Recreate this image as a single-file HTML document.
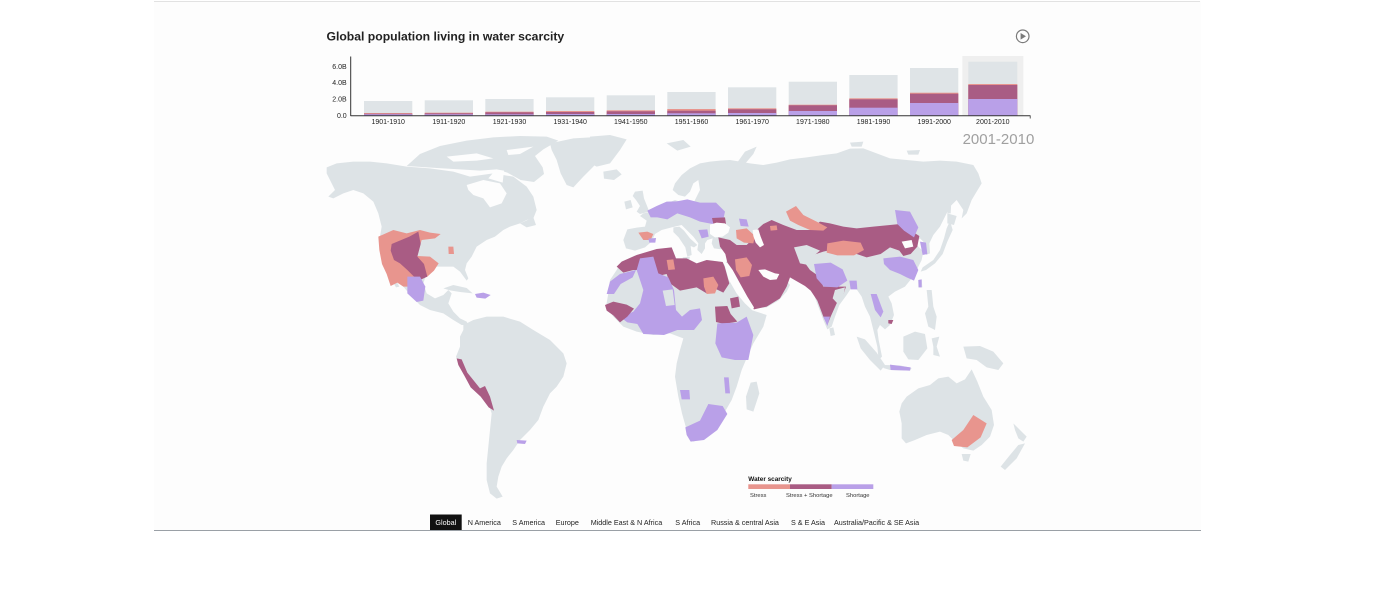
<!DOCTYPE html>
<html><head><meta charset="utf-8"><style>
html,body{margin:0;padding:0;background:#fff;width:1380px;height:600px;overflow:hidden}
svg{position:absolute;left:0;top:0}
text{font-family:"Liberation Sans",Arial,sans-serif}
</style></head><body>
<svg width="1380" height="600" viewBox="0 0 1380 600" xmlns="http://www.w3.org/2000/svg">
<rect x="154" y="1" width="1047" height="529" fill="#fdfdfd"/>
<line x1="154" y1="1.5" x2="1200" y2="1.5" stroke="#e2e2e2" stroke-width="1"/>
<line x1="154" y1="530.5" x2="1201" y2="530.5" stroke="#9aa0a6" stroke-width="1"/>

<text x="326.5" y="40.5" font-size="12.2" font-weight="bold" fill="#222">Global population living in water scarcity</text>
<circle cx="1022.7" cy="36.3" r="6.3" fill="none" stroke="#7a7a7a" stroke-width="1.2"/>
<path d="M1020.6,33 L1020.6,39.6 L1026,36.3 Z" fill="#7a7a7a"/>

<!-- bar chart -->
<rect x="962.3" y="56" width="61" height="59.7" fill="#efefef"/>
<line x1="350.7" y1="56.5" x2="350.7" y2="116" stroke="#333" stroke-width="1"/>
<g font-size="7" fill="#222" text-anchor="end">
<text x="346.7" y="69">6.0B</text>
<text x="346.7" y="85">4.0B</text>
<text x="346.7" y="101.5">2.0B</text>
<text x="346.7" y="118">0.0</text>
</g>
<text x="1034.3" y="144" font-size="15" fill="#a0a0a0" text-anchor="end">2001-2010</text>

<!-- Americas -->
<g transform="translate(320,130) scale(0.33333)">
<g fill="#dde3e6">
<path d="M20,112 L50,100 L100,95 L150,95 L200,100 L260,110 L330,115 L400,125 L450,140 L520,130 L580,140 L620,170 L640,200 L650,240 L640,265 L620,270 L600,280 L570,290 L550,300 L525,320 L500,330 L470,350 L455,380 L440,400 L435,420 L445,445 L440,452 L420,425 L400,410 L370,410 L345,410 L320,430 L310,460 L320,490 L345,505 L370,495 L385,480 L395,490 L385,520 L400,545 L420,565 L440,575 L445,585 L425,585 L400,570 L370,550 L330,540 L300,525 L275,500 L250,470 L230,445 L215,415 L200,400 L190,390 L185,360 L180,320 L185,290 L175,250 L160,215 L130,190 L100,180 L70,190 L40,205 L25,200 L45,180 L30,150 L20,130 Z"/>
<path d="M195,395 L212,420 L238,470 L228,472 L205,432 Z"/>
<path d="M260,108 L300,72 L360,48 L440,32 L520,22 L600,18 L680,20 L715,32 L670,58 L645,78 L668,112 L672,132 L642,156 L602,150 L562,128 L530,118 L480,122 L420,118 L350,114 Z"/>
<path d="M690,40 L760,25 L850,20 L910,28 L880,50 L845,80 L820,110 L790,140 L760,172 L740,165 L722,130 L710,90 L695,60 Z"/>
<path d="M370,475 L400,465 L440,474 L458,490 L420,486 L390,481 Z"/>
<path d="M600,280 L640,262 L648,285 L620,292 Z"/>
<path d="M430,585 L460,570 L500,560 L550,560 L600,575 L640,600 L690,630 L730,670 L740,700 L730,740 L710,770 L690,790 L670,830 L655,870 L630,900 L600,930 L580,960 L560,985 L545,1010 L535,1040 L530,1070 L548,1100 L530,1106 L510,1090 L500,1050 L500,1000 L505,950 L510,900 L515,850 L505,820 L480,790 L450,762 L430,732 L415,702 L408,680 L420,650 L420,620 L430,600 Z"/>
</g>
<g fill="#fdfdfd">
<path d="M440,165 L490,150 L540,160 L560,190 L545,220 L510,232 L490,205 L460,195 L445,180 Z"/>
<path d="M505,145 L528,118 L552,122 L548,158 Z"/>
<path d="M380,80 L470,70 L520,85 L470,92 L400,95 Z"/>
<path d="M560,60 L640,50 L600,72 L565,75 Z"/>
</g>
<path fill="#e8958e" d="M175,320 L220,300 L260,310 L300,300 L330,308 L362,312 L345,325 L305,330 L292,378 L330,380 L356,400 L342,422 L322,440 L292,450 L272,470 L250,470 L232,458 L212,468 L200,432 L186,402 L178,360 Z"/>
<path fill="#a95c84" d="M215,342 L268,320 L295,305 L302,342 L292,380 L312,402 L322,440 L300,450 L282,440 L262,420 L240,400 L222,390 L212,362 Z"/>
<path fill="#b9a0e8" d="M262,440 L300,440 L316,470 L310,512 L290,516 L262,490 Z"/>
<path fill="#e8958e" d="M385,350 L400,350 L402,372 L386,372 Z"/>
<path fill="#b9a0e8" d="M465,492 L490,488 L512,495 L496,506 L470,503 Z"/>
<path fill="#a95c84" d="M410,685 L425,688 L442,728 L480,775 L495,768 L510,800 L522,842 L506,832 L482,800 L452,772 L432,735 L415,705 Z"/>
<path fill="#b9a0e8" d="M590,930 L620,932 L615,942 L592,940 Z"/>
</g>

<!-- Eurasia / Africa / Oceania -->
<g transform="translate(590,130) scale(0.33333)">
<g fill="#dde3e6">
<path d="M112,298 L100,330 L108,355 L135,362 L165,352 L185,335 L195,312 L215,300 L245,292 L275,285 L290,300 L310,320 L325,340 L322,360 L335,372 L345,355 L345,340 L352,330 L368,325 L365,340 L372,355 L395,358 L418,352 L420,365 L414,385 L408,398 L425,420 L448,460 L470,500 L492,535 L530,532 L565,512 L590,485 L600,465 L585,445 L570,430 L595,438 L625,443 L650,455 L660,478 L672,495 L685,530 L700,570 L712,598 L725,590 L735,560 L748,525 L770,495 L785,472 L800,478 L815,500 L825,530 L840,560 L850,600 L862,650 L866,690 L876,680 L866,630 L862,600 L870,585 L885,598 L900,585 L912,555 L905,520 L895,500 L915,485 L945,470 L965,445 L980,420 L995,390 L1000,365 L985,350 L975,340 L990,325 L1000,335 L1008,375 L1020,370 L1018,340 L1030,315 L1050,290 L1065,260 L1080,230 L1100,210 L1120,240 L1115,265 L1130,250 L1145,210 L1160,185 L1175,160 L1165,130 L1150,105 L1100,95 L1050,92 L1000,95 L950,90 L900,85 L860,70 L820,55 L780,56 L740,70 L700,75 L650,82 L600,88 L560,98 L520,105 L480,100 L450,95 L420,90 L390,92 L360,95 L330,100 L300,115 L275,135 L255,160 L248,180 L265,195 L285,200 L300,185 L310,160 L325,150 L330,180 L320,200 L310,220 L290,225 L270,215 L255,210 L230,220 L215,228 L200,238 L185,245 L160,250 L150,258 L170,272 L165,290 L140,293 Z"/>
<path d="M250,292 L268,290 L282,302 L300,325 L322,345 L312,352 L302,348 L305,375 L292,380 L286,352 L266,322 L250,306 Z"/>
<path d="M278,382 L300,380 L296,394 L280,392 Z"/>
<path d="M135,185 L158,182 L162,205 L170,225 L178,245 L150,252 L140,245 L150,228 L138,210 L128,198 Z"/>
<path d="M103,215 L122,210 L128,232 L108,238 Z"/>
<path d="M40,125 L80,118 L95,133 L72,150 L42,146 Z"/>
<path d="M0,20 L60,15 L110,28 L90,60 L60,100 L20,110 L0,100 Z"/>
<path d="M230,40 L280,30 L302,50 L262,62 Z"/>
<path d="M440,100 L465,65 L500,50 L490,72 L462,105 Z"/>
<path d="M780,38 L820,35 L815,50 L785,50 Z"/>
<path d="M950,62 L990,60 L985,74 L955,74 Z"/>
<path d="M1075,195 L1085,195 L1082,250 L1072,250 Z"/>
<path d="M1080,272 L1088,300 L1072,335 L1058,372 L1035,400 L1008,420 L992,425 L998,412 L1030,390 L1050,360 L1062,325 L1070,295 Z"/>
<path d="M1072,250 L1100,258 L1092,285 L1072,280 Z"/>
<path d="M985,450 L995,448 L997,472 L985,472 Z"/>
<path d="M1010,480 L1025,480 L1030,530 L1040,560 L1035,600 L1015,590 L1005,550 L1015,530 Z"/>
<path d="M718,595 L730,592 L735,615 L722,618 Z"/>
<path d="M800,620 L825,628 L860,668 L885,705 L872,722 L840,690 L812,655 Z"/>
<path d="M880,705 L930,706 L965,714 L960,722 L900,720 L880,714 Z"/>
<path d="M940,620 L975,605 L1005,612 L1012,655 L985,690 L955,688 L940,665 Z"/>
<path d="M1025,625 L1048,620 L1040,650 L1050,680 L1030,675 L1030,650 Z"/>
<path d="M1120,650 L1170,648 L1210,665 L1240,700 L1225,720 L1190,712 L1160,690 L1130,685 Z"/>
<path d="M935,820 L950,800 L985,775 L1020,765 L1045,745 L1075,740 L1100,760 L1125,748 L1145,718 L1162,755 L1180,800 L1205,840 L1212,885 L1200,920 L1175,945 L1150,962 L1120,955 L1095,935 L1075,915 L1050,905 L1010,915 L975,930 L948,940 L935,925 L935,880 L928,845 Z"/>
<path d="M1115,972 L1142,972 L1135,995 L1120,992 Z"/>
<path d="M1270,880 L1290,900 L1310,920 L1300,935 L1285,925 L1275,900 Z"/>
<path d="M1285,945 L1305,940 L1280,985 L1245,1020 L1232,1010 L1260,975 Z"/>
<path d="M482,758 L500,755 L508,790 L490,845 L470,838 L468,800 Z"/>
<path d="M95,395 L140,375 L200,358 L245,352 L258,385 L290,385 L320,400 L350,390 L398,396 L404,406 L416,448 L440,490 L465,520 L490,542 L530,555 L520,590 L490,640 L472,680 L455,720 L440,770 L425,810 L402,850 L390,880 L350,920 L310,935 L290,900 L276,850 L265,800 L255,740 L260,700 L270,660 L280,625 L240,610 L190,615 L140,605 L100,590 L70,560 L48,530 L55,490 L60,450 L80,420 Z"/>
</g>
<!-- colours -->
<path fill="#a95c84" d="M80,410 L95,395 L140,375 L200,357 L245,352 L258,385 L290,385 L320,400 L350,390 L398,396 L404,410 L418,460 L400,488 L380,478 L350,490 L320,472 L270,482 L240,460 L230,432 L195,440 L182,420 L130,420 L100,428 Z"/>
<path fill="#e8958e" d="M230,390 L250,388 L255,418 L235,420 Z"/>
<path fill="#e8958e" d="M340,445 L370,440 L385,465 L375,490 L350,492 L342,470 Z"/>
<path fill="#b9a0e8" d="M50,492 L60,455 L90,432 L138,420 L128,442 L92,462 L72,492 Z"/>
<path fill="#b9a0e8" d="M140,420 L150,385 L190,380 L205,430 L235,442 L252,480 L258,540 L276,560 L300,540 L330,535 L336,570 L312,600 L262,600 L222,615 L160,612 L142,582 L112,577 L92,562 L130,545 L150,520 L160,480 L150,450 Z"/>
<path fill="#dde3e6" d="M218,482 L248,478 L254,525 L228,528 Z"/>
<path fill="#a95c84" d="M45,525 L70,515 L110,524 L132,536 L112,560 L90,577 L70,556 L50,542 Z"/>
<path fill="#a95c84" d="M375,530 L412,528 L422,552 L442,575 L402,582 L378,576 Z"/>
<path fill="#a95c84" d="M420,505 L445,500 L450,530 L425,535 Z"/>
<path fill="#b9a0e8" d="M382,580 L440,578 L470,560 L490,615 L475,690 L435,690 L395,682 L376,640 Z"/>
<path fill="#b9a0e8" d="M286,892 L330,872 L355,822 L398,828 L412,852 L382,900 L342,930 L302,935 L290,915 Z"/>
<path fill="#b9a0e8" d="M270,780 L298,780 L300,808 L275,808 Z"/>
<path fill="#b9a0e8" d="M402,742 L416,742 L420,790 L406,790 Z"/>
<path fill="#b9a0e8" d="M172,242 L200,228 L230,215 L260,214 L292,208 L330,218 L378,218 L405,245 L400,268 L368,282 L330,275 L300,262 L262,250 L232,268 L202,262 L182,262 Z"/>
<path fill="#a95c84" d="M366,264 L405,262 L408,282 L390,292 L372,290 Z"/>
<path fill="#e8958e" d="M145,308 L172,305 L190,312 L182,330 L160,330 Z"/>
<path fill="#b9a0e8" d="M175,326 L198,324 L196,338 L178,338 Z"/>
<path fill="#b9a0e8" d="M325,300 L352,298 L356,320 L335,325 Z"/>
<path fill="#a95c84" d="M385,322 L420,330 L440,345 L470,345 L485,330 L500,300 L520,282 L545,270 L580,285 L620,300 L660,300 L690,275 L720,280 L760,290 L800,295 L850,290 L900,285 L930,282 L960,300 L988,318 L982,350 L962,372 L940,378 L928,362 L900,352 L872,372 L830,382 L800,372 L770,362 L740,356 L700,365 L660,378 L642,395 L660,420 L688,440 L700,470 L740,470 L768,470 L758,500 L740,520 L722,560 L712,585 L700,560 L682,512 L662,482 L645,468 L600,442 L590,470 L570,505 L530,530 L492,538 L472,518 L452,488 L432,458 L416,420 L412,398 L406,372 L390,350 Z"/>
<path fill="#e8958e" d="M438,300 L470,295 L495,318 L490,340 L462,338 L440,325 Z"/>
<path fill="#e8958e" d="M588,245 L618,228 L640,255 L680,275 L712,292 L700,302 L660,300 L625,285 L600,272 Z"/>
<path fill="#e8958e" d="M540,288 L560,286 L562,300 L542,302 Z"/>
<path fill="#b9a0e8" d="M447,266 L470,268 L476,290 L452,288 Z"/>
<path fill="#e8958e" d="M435,388 L470,382 L486,405 L478,438 L452,442 L438,420 Z"/>
<path fill="#dde3e6" d="M612,352 L650,345 L690,362 L668,380 L655,405 L630,400 Z"/>
<path fill="#e8958e" d="M712,340 L760,332 L812,338 L822,360 L792,376 L742,376 L710,368 Z"/>
<path fill="#b9a0e8" d="M672,402 L722,398 L758,418 L772,452 L742,472 L702,470 L680,445 Z"/>
<path fill="#b9a0e8" d="M778,452 L800,452 L802,478 L782,478 Z"/>
<path fill="#b9a0e8" d="M700,560 L720,560 L712,588 Z"/>
<path fill="#dde3e6" d="M735,480 L765,472 L760,500 L742,520 L728,505 Z"/>
<path fill="#b9a0e8" d="M880,385 L930,380 L970,390 L985,420 L972,452 L950,442 L930,432 L900,420 L882,402 Z"/>
<path fill="#b9a0e8" d="M915,240 L960,245 L985,292 L972,322 L942,302 L922,282 Z"/>
<path fill="#b9a0e8" d="M990,335 L1008,338 L1012,372 L998,375 Z"/>
<path fill="#b9a0e8" d="M985,450 L995,448 L995,472 L986,472 Z"/>
<path fill="#b9a0e8" d="M842,492 L860,492 L880,545 L872,562 L855,540 Z"/>
<path fill="#a95c84" d="M895,570 L910,570 L905,582 L895,580 Z"/>
<path fill="#b9a0e8" d="M900,704 L962,712 L960,722 L902,720 Z"/>
<path fill="#e8958e" d="M1150,855 L1190,880 L1172,922 L1132,952 L1092,948 L1085,930 L1120,900 Z"/>
<!-- seas -->
<g fill="#fdfdfd">
<path d="M360,284 L380,278 L405,280 L420,292 L415,308 L398,320 L375,322 L360,312 Z"/>
<path d="M488,300 L505,298 L512,320 L522,345 L510,352 L497,338 L490,318 Z"/>
<path d="M505,420 L525,418 L555,430 L568,432 L560,448 L540,450 L520,440 Z"/>
<path d="M404,402 L412,398 L428,420 L450,460 L472,500 L492,532 L488,542 L465,520 L440,490 L416,448 Z"/>
<path d="M935,335 L965,330 L970,350 L945,355 Z"/>
</g>
</g>

<!-- legend -->
<text x="748.3" y="480.8" font-size="6.4" font-weight="bold" fill="#111">Water scarcity</text>
<rect x="748.3" y="484.3" width="41.7" height="4.7" fill="#e8958e"/>
<rect x="790" y="484.3" width="41.7" height="4.7" fill="#a95c84"/>
<rect x="831.7" y="484.3" width="41.6" height="4.7" fill="#b9a0e8"/>
<g font-size="5.8" fill="#333">
<text x="750" y="497">Stress</text>
<text x="786" y="497">Stress + Shortage</text>
<text x="846" y="497">Shortage</text>
</g>

<!-- nav -->
<rect x="430" y="514.5" width="31.7" height="15.5" fill="#111"/>
<g font-size="7.2" fill="#222">
<text x="445.8" y="525" fill="#fff" text-anchor="middle">Global</text>
<text x="467.7" y="525">N America</text>
<text x="512.3" y="525">S America</text>
<text x="555.7" y="525">Europe</text>
<text x="590.7" y="525">Middle East &amp; N Africa</text>
<text x="675.3" y="525">S Africa</text>
<text x="711" y="525">Russia &amp; central Asia</text>
<text x="791" y="525">S &amp; E Asia</text>
<text x="834" y="525">Australia/Pacific &amp; SE Asia</text>
</g>

<!-- bars -->
<g>
<rect x="364" y="101" width="48.3" height="14.7" fill="#dfe4e7"/><rect x="364" y="113" width="48.3" height="2.7" fill="#e8958e"/><rect x="364" y="113.7" width="48.3" height="2" fill="#a95c84"/><rect x="364" y="114.3" width="48.3" height="1.4" fill="#b9a0e8"/>
<rect x="424.7" y="100.3" width="48.3" height="15.4" fill="#dfe4e7"/><rect x="424.7" y="112.7" width="48.3" height="3" fill="#e8958e"/><rect x="424.7" y="113.3" width="48.3" height="2.4" fill="#a95c84"/><rect x="424.7" y="114.3" width="48.3" height="1.4" fill="#b9a0e8"/>
<rect x="485.3" y="99" width="48.3" height="16.7" fill="#dfe4e7"/><rect x="485.3" y="111.7" width="48.3" height="4" fill="#e8958e"/><rect x="485.3" y="112.3" width="48.3" height="3.4" fill="#a95c84"/><rect x="485.3" y="114.3" width="48.3" height="1.4" fill="#b9a0e8"/>
<rect x="546" y="97.3" width="48.3" height="18.4" fill="#dfe4e7"/><rect x="546" y="111" width="48.3" height="4.7" fill="#e8958e"/><rect x="546" y="112" width="48.3" height="3.7" fill="#a95c84"/><rect x="546" y="114" width="48.3" height="1.7" fill="#b9a0e8"/>
<rect x="606.7" y="95.3" width="48.3" height="20.4" fill="#dfe4e7"/><rect x="606.7" y="110.3" width="48.3" height="5.4" fill="#e8958e"/><rect x="606.7" y="111.3" width="48.3" height="4.4" fill="#a95c84"/><rect x="606.7" y="114" width="48.3" height="1.7" fill="#b9a0e8"/>
<rect x="667.3" y="92" width="48.3" height="23.7" fill="#dfe4e7"/><rect x="667.3" y="109" width="48.3" height="6.7" fill="#e8958e"/><rect x="667.3" y="110.7" width="48.3" height="5" fill="#a95c84"/><rect x="667.3" y="113.3" width="48.3" height="2.4" fill="#b9a0e8"/>
<rect x="728" y="87.3" width="48.3" height="28.4" fill="#dfe4e7"/><rect x="728" y="108.3" width="48.3" height="7.4" fill="#e8958e"/><rect x="728" y="109.3" width="48.3" height="6.4" fill="#a95c84"/><rect x="728" y="113" width="48.3" height="2.7" fill="#b9a0e8"/>
<rect x="788.7" y="81.7" width="48.3" height="34" fill="#dfe4e7"/><rect x="788.7" y="104.7" width="48.3" height="11" fill="#e8958e"/><rect x="788.7" y="105.3" width="48.3" height="10.4" fill="#a95c84"/><rect x="788.7" y="111" width="48.3" height="4.7" fill="#b9a0e8"/>
<rect x="849.3" y="75" width="48.3" height="40.7" fill="#dfe4e7"/><rect x="849.3" y="98.3" width="48.3" height="17.4" fill="#e8958e"/><rect x="849.3" y="99.3" width="48.3" height="16.4" fill="#a95c84"/><rect x="849.3" y="107.7" width="48.3" height="8" fill="#b9a0e8"/>
<rect x="910" y="68" width="48.3" height="47.7" fill="#dfe4e7"/><rect x="910" y="92.7" width="48.3" height="23" fill="#e8958e"/><rect x="910" y="93.7" width="48.3" height="22" fill="#a95c84"/><rect x="910" y="103" width="48.3" height="12.7" fill="#b9a0e8"/>
<rect x="968.3" y="61.7" width="49" height="54" fill="#dfe4e7"/><rect x="968.3" y="84" width="49" height="31.7" fill="#e8958e"/><rect x="968.3" y="85" width="49" height="30.7" fill="#a95c84"/><rect x="968.3" y="99" width="49" height="16.7" fill="#b9a0e8"/>
</g>
<line x1="350.5" y1="115.7" x2="1030.5" y2="115.7" stroke="#333" stroke-width="1"/>
<line x1="1030.2" y1="115.7" x2="1030.2" y2="118.5" stroke="#333" stroke-width="0.8"/>
<g font-size="7" fill="#222" text-anchor="middle">
<text x="388.2" y="124">1901-1910</text>
<text x="448.8" y="124">1911-1920</text>
<text x="509.5" y="124">1921-1930</text>
<text x="570.2" y="124">1931-1940</text>
<text x="630.8" y="124">1941-1950</text>
<text x="691.5" y="124">1951-1960</text>
<text x="752.2" y="124">1961-1970</text>
<text x="812.8" y="124">1971-1980</text>
<text x="873.5" y="124">1981-1990</text>
<text x="934.2" y="124">1991-2000</text>
<text x="992.8" y="124">2001-2010</text>
</g>
</svg>
</body></html>
